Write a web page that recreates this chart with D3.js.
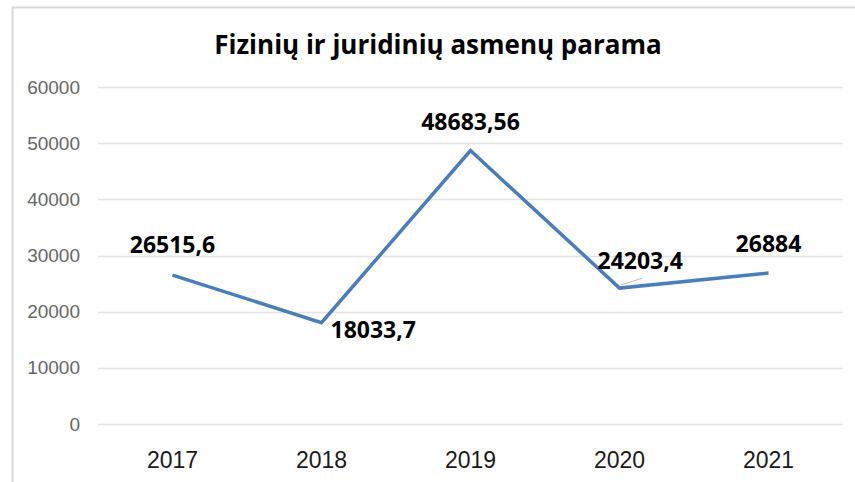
<!DOCTYPE html>
<html>
<head>
<meta charset="utf-8">
<script src="https://cdn.jsdelivr.net/npm/d3@7"></script>
<style>
  body { margin: 0; background: #fff; }
  svg { display: block; font-family: "Open Sans", "Liberation Sans", sans-serif; }
</style>
</head>
<body>
<div id="main"></div>
<script>
var years = ["2017", "2018", "2019", "2020", "2021"];
var values = [26515.6, 18033.7, 48683.56, 24203.4, 26884];
var valueLabels = ["26515,6", "18033,7", "48683,56", "24203,4", "26884"];
var yTicks = [0, 10000, 20000, 30000, 40000, 50000, 60000];

var ctx = {
    w: 855,
    h: 482,
    left: 98,
    right: 843,
    top: 87,
    bottom: 424,
    lineColor: "#4a7ebb",
    gridColor: "#e3e3e3"
};

// where each data label sits relative to its point (Excel-ish placement)
var labelPos = [
    {dx: 0, dy: -22, anchor: "middle"},
    {dx: 9, dy: 15, anchor: "start"},
    {dx: 0, dy: -21, anchor: "middle"},
    {dx: -22, dy: -19, anchor: "start"},
    {dx: 0, dy: -21, anchor: "middle"}
];

var svg = d3.select("#main").append("svg")
    .attr("width", ctx.w)
    .attr("height", ctx.h);

// chart frame (only top and left edges are visible in the crop)
svg.append("path")
    .attr("d", "M12.5," + ctx.h + "V7.5H" + ctx.w)
    .attr("fill", "none")
    .attr("stroke", "#d9d9d9")
    .attr("stroke-width", 2);

svg.append("text")
    .attr("x", 438)
    .attr("y", 54)
    .attr("text-anchor", "middle")
    .style("font-size", "26px")
    .style("font-weight", "bold")
    .style("fill", "#000")
    .text("Fizinių ir juridinių asmenų parama");

var x = d3.scaleBand().domain(years).range([ctx.left, ctx.right]);
var y = d3.scaleLinear().domain([0, 60000]).range([ctx.bottom, ctx.top]);

// gridlines
svg.append("g")
    .selectAll("line")
    .data(yTicks)
    .enter().append("line")
    .attr("x1", ctx.left)
    .attr("x2", ctx.right)
    .attr("y1", function(d){ return Math.round(y(d)) + 0.5; })
    .attr("y2", function(d){ return Math.round(y(d)) + 0.5; })
    .attr("stroke", ctx.gridColor)
    .attr("stroke-width", 1.5);

// y axis labels
var yAxis = svg.append("g")
    .attr("transform", "translate(" + (ctx.left - 18) + ",0)")
    .call(d3.axisLeft(y).tickValues(yTicks).tickSize(0).tickPadding(0).tickFormat(d3.format("d")));
yAxis.select(".domain").remove();
yAxis.selectAll("text")
    .style("font-family", "'Liberation Sans', Arial, sans-serif")
    .style("font-size", "19px")
    .style("fill", "#666");

// x axis labels
var xAxis = svg.append("g")
    .attr("transform", "translate(0," + (ctx.bottom + 28) + ")")
    .call(d3.axisBottom(x).tickSize(0).tickPadding(0));
xAxis.select(".domain").remove();
xAxis.selectAll("text")
    .style("font-family", "'Liberation Sans', Arial, sans-serif")
    .style("font-size", "23px")
    .style("fill", "#1a1a1a");

var cx = function(i){ return x(years[i]) + x.bandwidth() / 2; };

var line = d3.line()
    .x(function(d, i){ return cx(i); })
    .y(function(d){ return y(d); });

svg.append("path")
    .datum(values)
    .attr("d", line)
    .attr("fill", "none")
    .attr("stroke", ctx.lineColor)
    .attr("stroke-width", 3.5)
    .attr("stroke-linejoin", "miter");

// leader line for the 2020 label
svg.append("line")
    .attr("x1", cx(3) + 1)
    .attr("y1", y(values[3]) - 3)
    .attr("x2", cx(3) + 23)
    .attr("y2", y(values[3]) - 10)
    .attr("stroke", "#bfbfbf")
    .attr("stroke-width", 1);

svg.append("g")
    .selectAll("text")
    .data(values)
    .enter().append("text")
    .attr("x", function(d, i){ return cx(i) + labelPos[i].dx; })
    .attr("y", function(d, i){ return y(d) + labelPos[i].dy; })
    .attr("text-anchor", function(d, i){ return labelPos[i].anchor; })
    .style("font-size", "23px")
    .style("font-weight", "bold")
    .style("fill", "#000")
    .text(function(d, i){ return valueLabels[i]; });
</script>
</body>
</html>
